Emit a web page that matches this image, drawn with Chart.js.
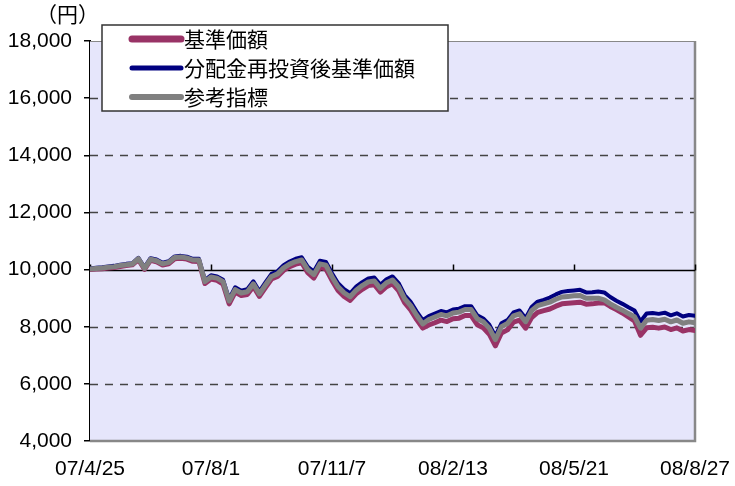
<!DOCTYPE html>
<html>
<head>
<meta charset="utf-8">
<script src="https://cdn.jsdelivr.net/npm/chart.js@4"></script>
<style>
  html, body { margin: 0; padding: 0; background: #fff; }
  #wrap { position: relative; width: 735px; height: 486px; }
</style>
</head>
<body>
<div id="wrap"><canvas id="chart" width="735" height="486"></canvas></div>
<script>
// x axis labels, one every 20 points
const tickLabels = ["07/4/25", "07/8/1", "07/11/7", "08/2/13", "08/5/21", "08/8/27"];
const seriesNames = ["基準価額", "分配金再投資後基準価額", "参考指標"];
const unitLabel = "（円）";

// 基準価額
const basePrice = [
  10000, 10020, 10030, 10055, 10075, 10110, 10140, 10165, 10345, 10010,
  10320, 10270, 10160, 10205, 10375, 10395, 10365, 10290, 10285, 9510,
  9670, 9620, 9490, 8800, 9210, 9090, 9130, 9410, 9060, 9370,
  9670, 9760, 9970, 10100, 10190, 10240, 9890, 9700, 10080, 10020,
  9620, 9270, 9060, 8920, 9150, 9310, 9440, 9470, 9210, 9400,
  9500, 9260, 8840, 8590, 8250, 7950, 8060, 8140, 8230, 8180,
  8280, 8300, 8390, 8390, 8070, 7960, 7740, 7330, 7780, 7890,
  8160, 8230, 7950, 8320, 8500, 8560, 8620, 8720, 8800, 8820,
  8840, 8860, 8790, 8800, 8830, 8840, 8710, 8600, 8480, 8340,
  8200, 7700, 7960, 7980, 7950, 7990, 7900, 7960, 7850, 7900, 7870
];
// 分配金再投資後基準価額
const reinvestedPrice = [
  10040, 10060, 10080, 10105, 10130, 10170, 10200, 10225, 10410, 10080,
  10400, 10350, 10240, 10290, 10460, 10480, 10450, 10375, 10380, 9630,
  9800, 9760, 9640, 8970, 9380, 9260, 9310, 9590, 9240, 9550,
  9850, 9940, 10150, 10280, 10380, 10430, 10100, 9930, 10310, 10270,
  9870, 9520, 9310, 9170, 9400, 9560, 9690, 9720, 9470, 9660,
  9760, 9530, 9110, 8870, 8530, 8230, 8370, 8460, 8550, 8500,
  8600, 8630, 8720, 8720, 8400, 8290, 8070, 7670, 8120, 8230,
  8500, 8570, 8300, 8690, 8880, 8940, 9020, 9130, 9220, 9250,
  9270, 9290, 9200, 9210, 9230, 9200, 9040, 8910, 8800, 8680,
  8570, 8180, 8460, 8480, 8450, 8490, 8400, 8470, 8360, 8410, 8380
];
// 参考指標
const referenceIndex = [
  10020, 10040, 10055, 10080, 10100, 10140, 10170, 10195, 10380, 10045,
  10360, 10310, 10200, 10250, 10420, 10440, 10410, 10335, 10335, 9580,
  9740, 9700, 9575, 8900, 9300, 9180, 9225, 9500, 9150, 9460,
  9760, 9850, 10060, 10190, 10280, 10335, 10000, 9820, 10200, 10150,
  9750, 9400, 9190, 9050, 9280, 9440, 9570, 9600, 9345, 9540,
  9635, 9400, 8980, 8740, 8400, 8100, 8250, 8340, 8430, 8380,
  8480, 8510, 8600, 8600, 8280, 8175, 7950, 7550, 8000, 8110,
  8380, 8450, 8175, 8560, 8740, 8800, 8860, 8960, 9040, 9060,
  9080, 9090, 8995, 8995, 8995, 8940, 8800, 8680, 8580, 8460,
  8350, 7950, 8230, 8250, 8220, 8260, 8170, 8235, 8120, 8170, 8140
];

const seriesColors = ["#993366", "#000080", "#808080"];
const seriesWidths = [5, 4, 5];
const legendWidths = [7, 5, 6];

const toPoints = (arr) => arr.map((v, i) => ({ x: i, y: v }));

// background, dashed grid, 10000 axis line, frame
const framePlugin = {
  id: "frame",
  beforeDatasetsDraw(chart) {
    const { ctx, chartArea: a, scales } = chart;
    const y = scales.y, x = scales.x;
    ctx.save();
    ctx.fillStyle = "#e6e6fb";
    ctx.fillRect(a.left, a.top, a.right - a.left, a.bottom - a.top);
    ctx.strokeStyle = "#444";
    ctx.lineWidth = 1.5;
    ctx.setLineDash([8, 7]);
    y.ticks.forEach((t) => {
      if (t.value === y.min || t.value === y.max || t.value === 10000) return;
      const py = Math.round(y.getPixelForValue(t.value)) + 0.5;
      ctx.beginPath();
      ctx.moveTo(a.left, py);
      ctx.lineTo(a.right, py);
      ctx.stroke();
    });
    ctx.setLineDash([]);
    // frame right/bottom/top
    ctx.strokeStyle = "#888";
    ctx.lineWidth = 2.5;
    ctx.beginPath();
    ctx.moveTo(a.left, a.bottom);
    ctx.lineTo(a.right, a.bottom);
    ctx.lineTo(a.right, a.top);
    ctx.stroke();
    ctx.lineWidth = 1;
    ctx.beginPath();
    ctx.moveTo(a.left, a.top + 0.5);
    ctx.lineTo(a.right, a.top + 0.5);
    ctx.stroke();
    // horizontal axis at 10000
    const py = Math.round(y.getPixelForValue(10000)) + 0.5;
    ctx.strokeStyle = "#000";
    ctx.lineWidth = 1.5;
    ctx.beginPath();
    ctx.moveTo(a.left, py);
    ctx.lineTo(a.right, py);
    x.ticks.forEach((t) => {
      const px = Math.round(x.getPixelForValue(t.value)) + 0.5;
      ctx.moveTo(px, py);
      ctx.lineTo(px, py - 6);
    });
    ctx.stroke();
    ctx.restore();
  },
  afterDraw(chart) {
    const { ctx } = chart;
    ctx.save();
    // unit label
    ctx.fillStyle = "#000";
    ctx.font = '21px "Noto Sans CJK JP"';
    ctx.textBaseline = "middle";
    ctx.textAlign = "left";
    ctx.fillText(unitLabel, 36, 14);
    // legend box
    const bx = 102, by = 25, bw = 346, bh = 86;
    ctx.fillStyle = "#fff";
    ctx.fillRect(bx, by, bw, bh);
    ctx.strokeStyle = "#333";
    ctx.lineWidth = 1.5;
    ctx.strokeRect(bx, by, bw, bh);
    seriesNames.forEach((name, i) => {
      const ry = by + 14 + i * 29;
      ctx.strokeStyle = seriesColors[i];
      ctx.lineWidth = legendWidths[i];
      ctx.lineCap = "round";
      ctx.beginPath();
      ctx.moveTo(132, ry);
      ctx.lineTo(181, ry);
      ctx.stroke();
      ctx.fillStyle = "#000";
      ctx.fillText(name, 184, ry);
    });
    ctx.restore();
  },
};

new Chart(document.getElementById("chart"), {
  type: "line",
  data: {
    datasets: [
      { label: seriesNames[0], data: toPoints(basePrice), order: 2 },
      { label: seriesNames[1], data: toPoints(reinvestedPrice), order: 1 },
      { label: seriesNames[2], data: toPoints(referenceIndex), order: 0 },
    ].map((d, i) => ({
      ...d,
      borderColor: seriesColors[i],
      borderWidth: seriesWidths[i],
      pointRadius: 0,
      tension: 0,
      borderJoinStyle: "round",
      borderCapStyle: "round",
    })),
  },
  options: {
    responsive: false,
    animation: false,
    layout: { padding: { top: 41, right: 40, left: 0, bottom: 0 } },
    plugins: { legend: { display: false }, tooltip: { enabled: false } },
    scales: {
      x: {
        type: "linear",
        min: 0,
        max: 100,
        grid: { display: false },
        border: { display: false },
        ticks: {
          stepSize: 20,
          padding: 8,
          color: "#000",
          font: { family: "Liberation Sans", size: 21 },
          callback: (v) => tickLabels[v / 20],
          maxRotation: 0,
        },
        afterFit: (s) => {
          s.height = 45;
          s.paddingLeft = 0;
          s.paddingRight = 0;
        },
      },
      y: {
        min: 4000,
        max: 18000,
        grid: { drawOnChartArea: false, drawTicks: true, tickLength: 6, color: "#000", lineWidth: 1.5 },
        border: { color: "#000", width: 2 },
        ticks: {
          stepSize: 2000,
          padding: 12,
          color: "#000",
          font: { family: "Liberation Sans", size: 21 },
          callback: (v) => v.toLocaleString("en-US"),
        },
        afterFit: (s) => { s.width = 90; },
      },
    },
  },
  plugins: [framePlugin],
});
</script>
</body>
</html>
